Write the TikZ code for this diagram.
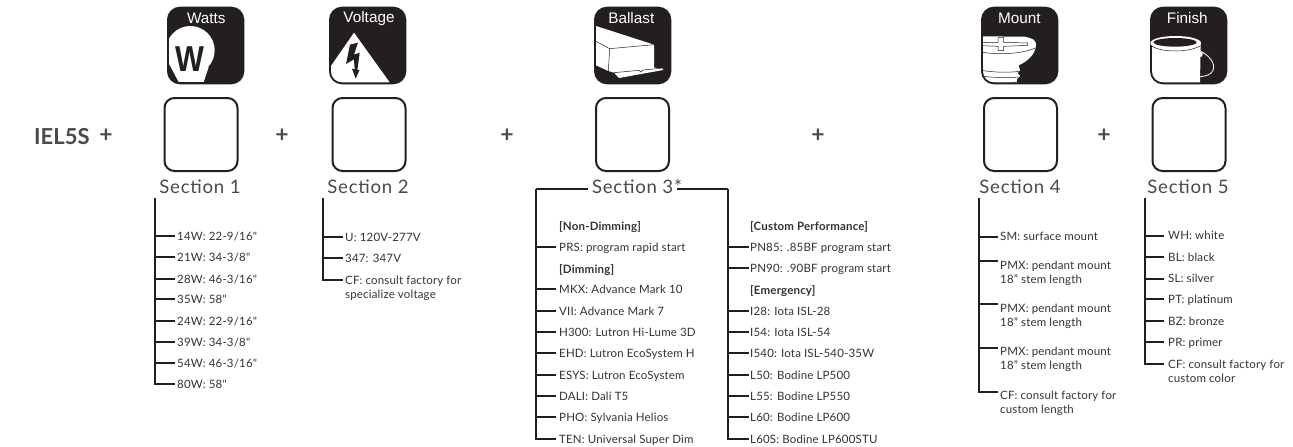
\documentclass[tikz,border=0pt]{standalone}
\usepackage{fontspec}
\setmainfont{Lato}
\newfontfamily\arialf{Liberation Sans}
\newfontfamily\secf[LetterSpace=4]{Lato}
\newfontfamily\labf[LetterSpace=1.5]{Lato}
\definecolor{ink}{HTML}{231F20}
\definecolor{txt}{HTML}{333333}
\definecolor{sect}{HTML}{4A4A4A}
\tikzset{
  conn/.style={draw=ink,line width=2.4pt},
  lab/.style={inner sep=0pt,text=txt,align=left,anchor=north west,yshift=4pt,font=\labf\fontsize{11.5}{14}\selectfont},
  emptybox/.style={draw=ink,line width=2pt,rounded corners=10pt,minimum width=73pt,minimum height=73pt,inner sep=0pt,fill=white},
  sectlab/.style={inner sep=0pt,text=sect,font=\secf\fontsize{18.6}{20}\selectfont},
  plus/.style={inner sep=0pt,text=sect,font=\bfseries\fontsize{23}{25}\selectfont},
  icontitle/.style={inner sep=0pt,anchor=base,text=white,font=\arialf\fontsize{15.3}{18}\selectfont},
  iconbg/.style={fill=ink,rounded corners=13pt},
  thin ink/.style={draw=ink,line width=.5pt},
}
\newcommand{\optitem}[7]{%
  \coordinate (#1) at (#3,#4);
  \draw[conn] (#2) |- (#1);
  \node[lab] (#1t) at (#5,#6) {\rule{0pt}{8pt}#7};
}
\newcommand{\opthead}[4]{\node[lab] (#1) at (#2,#3) {\rule{0pt}{8pt}\bfseries #4};}
\newcommand{\iconclip}{\clip[rounded corners=11pt] (21,20) rectangle (241,241);}
\begin{document}
\begin{tikzpicture}[x=1pt,y=-1pt]
\useasboundingbox (0,0) rectangle (1293,447);
\fill[white] (0,0) rectangle (1293,447);

% Heading row
\node[inner sep=0pt,anchor=west,text=sect,font=\bfseries\fontsize{22}{24}\selectfont] (iel) at (34,136.5) {IEL5S};
\node[plus] (p0) at (106,136) {+};
\node[plus] (p1) at (282,136) {+};
\node[plus] (p2) at (507,136) {+};
\node[plus] (p3) at (818,136) {+};
\node[plus] (p4) at (1104,136) {+};

% Boxes
\node[emptybox] (box1) at (201,134.5) {};
\node[emptybox] (box2) at (369,134.5) {};
\node[emptybox] (box3) at (632.5,134.5) {};
\node[emptybox] (box4) at (1020.5,134.5) {};
\node[emptybox] (box5) at (1189,134.5) {};

\node[sectlab] (sec1) at (200,187) {Section 1};
\node[sectlab] (sec2) at (368,187) {Section 2};
\node[sectlab] (sec3) at (637,187) {Section 3*};
\node[sectlab] (sec4) at (1020,187) {Section 4};
\node[sectlab] (sec5) at (1188,187) {Section 5};

% Icon: Watts
\begin{scope}[shift={(162,2)},x=.33333pt,y=-.33333pt]
  \fill[iconbg] (15,14) rectangle (247,247);
  \begin{scope}
    \iconclip
    \fill[white] (85,145) circle [radius=73];
    \fill[white] (18,180) -- (50,240) -- (125,240) -- (140,195) -- cycle;
  \end{scope}
  \node[inner sep=0pt,text=ink,font=\arialf\bfseries\fontsize{36}{36}\selectfont,xscale=.85] (wglyph) at (84,171) {W};
  \node[icontitle] (t1) at (133,64) {Watts};
\end{scope}

% Icon: Voltage
\begin{scope}[shift={(324,2)},x=.33333pt,y=-.33333pt]
  \fill[iconbg] (15,14) rectangle (247,247);
  \begin{scope}
    \iconclip
    \fill[white] (90,92) -- (197,241) -- (0,241) -- (0,222) -- cycle;
  \end{scope}
  \fill[ink] (78,128) -- (102,122) -- (90,158) -- (107,152) -- (100,205) -- (107,203) -- (95,230) -- (84,200) -- (92,202) -- (90,172) -- (66,186) -- cycle;
  \node[icontitle] (t2) at (135,62) {Voltage};
\end{scope}

% Icon: Ballast
\begin{scope}[shift={(589,2)},x=.33333pt,y=-.33333pt]
  \fill[iconbg] (15,14) rectangle (247,247);
  \fill[white] (21,72) -- (195,128) -- (195,197) -- (222,200) -- (222,204) -- (90,228) -- (75,212) -- (58,207) -- (21,190) -- cycle;
  \draw[thin ink] (21,118) -- (62,140) -- (195,128);
  \draw[thin ink] (62,140) -- (58,207);
  \draw[thin ink] (75,212) -- (150,205) -- (155,210) -- (162,204) -- (215,199);
  \node[icontitle] (t3) at (127,64) {Ballast};
\end{scope}

% Icon: Mount
\begin{scope}[shift={(976,2)},x=.33333pt,y=-.33333pt]
  \fill[iconbg] (15,14) rectangle (247,247);
  \begin{scope}
    \iconclip
    \fill[white] (15,103) -- (145,104) .. controls (170,108) and (182,116) .. (180,130)
      .. controls (178,160) and (150,180) .. (128,190) -- (132,205) -- (125,213) -- (132,222) -- (123,231) -- (122,245) -- (15,245) -- cycle;
    \draw[thin ink] (15,205) .. controls (60,212) and (100,212) .. (130,208);
    \draw[thin ink] (15,222) .. controls (60,228) and (100,228) .. (128,225);
    \draw[thin ink] (15,238) .. controls (60,243) and (90,243) .. (122,240);
    \draw[thin ink] (15,121) -- (66,121) -- (66,107) -- (83,107) -- (83,121) -- (155,123) -- (155,130) -- (83,133) -- (83,146) -- (66,146) -- (66,133) -- (15,131);
    \draw[thin ink] (15,150) .. controls (70,160) and (140,155) .. (178,138);
  \end{scope}
  \node[icontitle] (t4) at (130,64) {Mount};
\end{scope}

% Icon: Finish
\begin{scope}[shift={(1145,2)},x=.33333pt,y=-.33333pt]
  \fill[iconbg] (15,14) rectangle (247,247);
  \begin{scope}
    \iconclip
    \fill[white] (17,120) -- (17,245) -- (165,245) -- (167,120) -- cycle;
  \end{scope}
  \fill[white] (92,123) ellipse [x radius=76, y radius=21];
  \fill[ink] (90,121) ellipse [x radius=65, y radius=13];
  \draw[thin ink] (20,132) .. controls (50,152) and (130,152) .. (165,132);
  \draw[white,line width=.8pt] (172,150) .. controls (195,165) and (212,185) .. (204,205) .. controls (198,218) and (185,222) .. (166,224);
  \fill[white] (168,156) ellipse [x radius=5, y radius=9];
  \node[icontitle] (t5) at (127,64) {Finish};
\end{scope}

% Section 1
\coordinate (s1top) at (155,198);
\optitem{a1}{s1top}{175}{236}{177}{236}{14W: 22-9/16"}
\optitem{a2}{s1top}{175}{257}{177}{257}{21W: 34-3/8"}
\optitem{a3}{s1top}{175}{279}{177}{279}{28W: 46-3/16"}
\optitem{a4}{s1top}{175}{299}{177}{299}{35W: 58"}
\optitem{a5}{s1top}{175}{321}{177}{321}{24W: 22-9/16"}
\optitem{a6}{s1top}{175}{342}{177}{342}{39W: 34-3/8"}
\optitem{a7}{s1top}{175}{363}{177}{363}{54W: 46-3/16"}
\optitem{a8}{s1top}{175}{384}{177}{384}{80W: 58"}

% Section 2
\coordinate (s2top) at (323,198);
\optitem{b1}{s2top}{343}{237}{345}{237}{U: 120V-277V}
\optitem{b2}{s2top}{343}{258}{345}{258}{347: 347V}
\optitem{b3}{s2top}{343}{280}{345}{280}{CF: consult factory for\\specialize voltage}

% Section 3 left
\coordinate (s3la) at (588,189);
\coordinate (s3lb) at (536,189);
\draw[conn] (s3la) -- (s3lb);
\opthead{c0}{559}{225}{[Non-Dimming]}
\optitem{c1}{s3lb}{556}{247}{559}{247}{PRS: program rapid start}
\opthead{c2}{559}{268}{[Dimming]}
\optitem{c3}{s3lb}{556}{289}{559}{289}{MKX: Advance Mark 10}
\optitem{c4}{s3lb}{556}{311}{559}{311}{VII: Advance Mark 7}
\optitem{c5}{s3lb}{556}{332}{559}{332}{H300: Lutron Hi-Lume 3D}
\optitem{c6}{s3lb}{556}{353}{559}{353}{EHD: Lutron EcoSystem H}
\optitem{c7}{s3lb}{556}{375}{559}{375}{ESYS: Lutron EcoSystem}
\optitem{c8}{s3lb}{556}{396}{559}{396}{DALI: Dali T5}
\optitem{c9}{s3lb}{556}{417}{559}{417}{PHO: Sylvania Helios}
\optitem{c10}{s3lb}{556}{439}{559}{439}{TEN: Universal Super Dim}

% Section 3 right
\coordinate (s3ra) at (677,189);
\coordinate (s3rb) at (728,189);
\draw[conn] (s3ra) -- (s3rb);
\opthead{d0}{750}{225}{[Custom Performance]}
\optitem{d1}{s3rb}{749}{247}{750}{247}{PN85: .85BF program start}
\optitem{d2}{s3rb}{749}{268}{750}{268}{PN90: .90BF program start}
\opthead{d3}{750}{289}{[Emergency]}
\optitem{d4}{s3rb}{749}{311}{750}{311}{I28: Iota ISL-28}
\optitem{d5}{s3rb}{749}{332}{750}{332}{I54: Iota ISL-54}
\optitem{d6}{s3rb}{749}{353}{750}{353}{I540: Iota ISL-540-35W}
\optitem{d7}{s3rb}{749}{375}{750}{375}{L50: Bodine LP500}
\optitem{d8}{s3rb}{749}{396}{750}{396}{L55: Bodine LP550}
\optitem{d9}{s3rb}{749}{417}{750}{417}{L60: Bodine LP600}
\optitem{d10}{s3rb}{749}{439}{750}{439}{L60S: Bodine LP600STU}

% Section 4
\coordinate (s4top) at (979,198);
\optitem{e1}{s4top}{998}{237}{1000}{236}{SM: surface mount}
\optitem{e2}{s4top}{998}{261}{1000}{264.5}{PMX: pendant mount\\18” stem length}
\optitem{e3}{s4top}{998}{304}{1000}{308}{PMX: pendant mount\\18” stem length}
\optitem{e4}{s4top}{998}{348}{1000}{351}{PMX: pendant mount\\18” stem length}
\optitem{e5}{s4top}{998}{392}{1000}{394.5}{CF: consult factory for\\custom length}

% Section 5
\coordinate (s5top) at (1145,198);
\optitem{f1}{s5top}{1164}{236}{1168}{235}{WH: white}
\optitem{f2}{s5top}{1164}{257}{1168}{257}{BL: black}
\optitem{f3}{s5top}{1164}{279}{1168}{278}{SL: silver}
\optitem{f4}{s5top}{1164}{299}{1168}{299}{PT: platinum}
\optitem{f5}{s5top}{1164}{321}{1168}{321}{BZ: bronze}
\optitem{f6}{s5top}{1164}{342}{1168}{342}{PR: primer}
\optitem{f7}{s5top}{1164}{364}{1168}{364}{CF: consult factory for\\custom color}
\end{tikzpicture}
\end{document}
